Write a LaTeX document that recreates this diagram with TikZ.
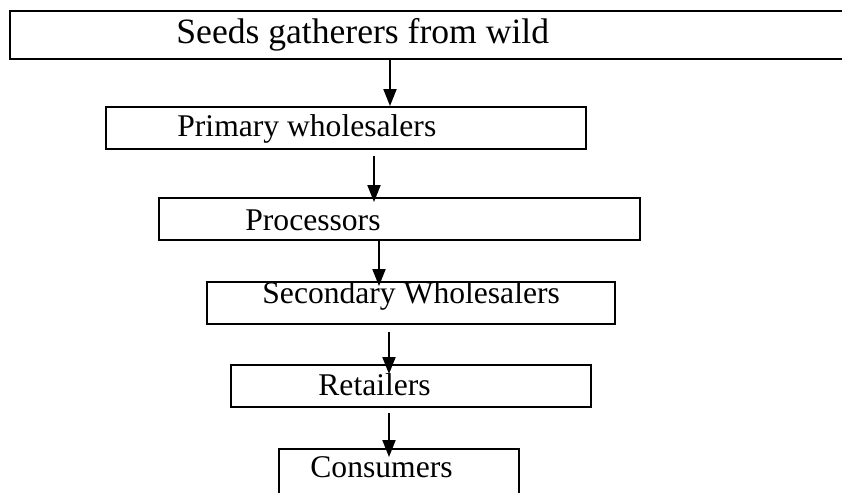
\documentclass[tikz,border=0pt]{standalone}
\usepackage{fontspec}
\setmainfont{Liberation Serif}
\usepackage{tikz}
\usetikzlibrary{arrows.meta}

\begin{document}
\begin{tikzpicture}[
  x=0.5pt, y=-0.5pt,
  stage/.style={draw, line width=1pt, rectangle, inner sep=0pt, minimum height=21pt},
  txt/.style={anchor=base west, inner sep=0pt, font=\fontsize{15.8pt}{19pt}\selectfont},
  flow/.style={line width=1pt, -{Triangle[width=6.5pt,length=8.5pt]}}
]
\useasboundingbox (0,0) rectangle (842,493);
\node[stage, minimum width=425pt, minimum height=24pt] (seeds) at (435,35) {};
\node[stage, minimum width=240pt] (primary) at (346,128) {};
\node[stage, minimum width=240.5pt] (proc) at (399.5,219) {};
\node[stage, minimum width=204pt] (second) at (411,303) {};
\node[stage, minimum width=180pt] (retail) at (411,386) {};
\node[stage, minimum width=120pt, minimum height=25.5pt] (cons) at (399,474.5) {};

\node[txt, font=\fontsize{17.8pt}{21pt}\selectfont] (seedst) at (176,43) {Seeds gatherers from wild};
\node[txt] (primaryt) at (177,136) {Primary wholesalers};
\node[txt] (proct) at (245,230) {Processors};
\node[txt] (secondt) at (262,303) {Secondary Wholesalers};
\node[txt] (retailt) at (318,395) {Retailers};
\node[txt] (const) at (310,477) {Consumers};

\draw[flow] (seeds.south -| 390,0) -- (primary.north -| 390,0);
\draw[flow] ([yshift=-3pt]primary.south -| 374,0) -- ([yshift=-2.5pt]proc.north -| 374,0);
\draw[flow] (proc.south -| 379,0) -- ([yshift=-2.5pt]second.north -| 379,0);
\draw[flow] ([yshift=-3.5pt]second.south -| 389,0) -- ([yshift=-5pt]retail.north -| 389,0);
\draw[flow] ([yshift=-2.5pt]retail.south -| 389,0) -- ([yshift=-4.5pt]cons.north -| 389,0);
\end{tikzpicture}
\end{document}
